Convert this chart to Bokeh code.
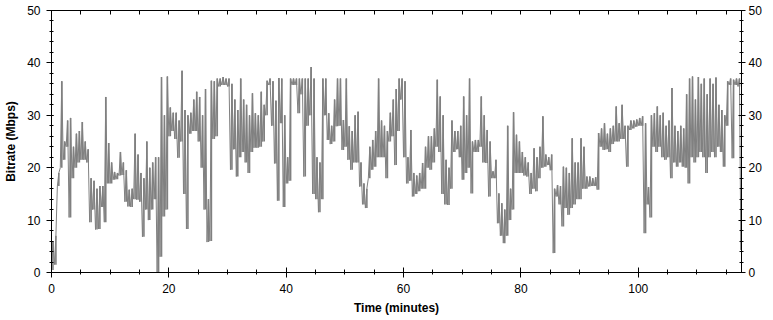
from bokeh.plotting import figure
from bokeh.models import Range1d, LinearAxis, SingleIntervalTicker, FixedTicker
from bokeh.embed import file_html
from bokeh.resources import INLINE

# Sampling: one min/max pair per half-minute bin, starting at 0 min
SAMPLE_STEP = 0.5
X_END = 117.6
TOP_TICKS = list(range(0, 120, 5))

# Minimum bitrate (Mbps) seen in each half-minute bin
low = [
    0.5, 1.5, 16.5, 20, 21.5, 24, 10.5, 18,
    20, 21, 21.5, 21.5, 21, 9.6, 12, 8.2,
    8.3, 12.5, 9.6, 17, 17, 17.7, 17.8, 18.5,
    18.6, 13.5, 12.6, 12.5, 14, 13.9, 13.5, 6.8,
    12, 10, 12, 14, 0, 3, 10.7, 12,
    26, 27, 25.5, 21.9, 25, 15, 8.3, 26.5,
    27, 27, 25, 20, 12, 5.8, 6, 25.5,
    26, 35.5, 35.8, 35.8, 35.5, 19.6, 23.5, 18.3,
    22, 23, 21, 19, 23, 23.8, 23.8, 24,
    25, 30, 35.8, 28, 20.8, 13.7, 28.5, 12.5,
    17, 17.5, 35.8, 35.8, 30.4, 34, 18.3, 28,
    30, 15, 14, 11.5, 14, 30, 25.3, 24.5,
    25, 27.9, 28, 23.4, 24, 21.5, 19.6, 21,
    21, 16.4, 13, 12.3, 18, 19.6, 20.2, 22,
    22, 22, 18, 25, 26, 20.5, 27, 33,
    22, 17, 17.5, 14.5, 15, 15.5, 16, 16,
    20, 19.6, 21, 24, 23, 15, 13, 12.9,
    16, 23, 23.5, 22, 17.7, 19, 20, 15.1,
    23, 23, 24, 21, 20.9, 14.5, 18, 18,
    9.4, 7, 5.6, 7, 10, 12, 19, 19,
    19, 18.5, 18.3, 15, 16, 15.5, 18, 20,
    20.2, 20.5, 19.5, 3.7, 14.5, 13, 8.8, 12.3,
    11, 12.3, 13, 14, 14, 16, 16, 16.4,
    16.5, 16.5, 15.8, 24, 23.4, 23.5, 23, 24.5,
    25, 25, 25.5, 25.5, 20.2, 27.2, 27.5, 27.8,
    28, 28, 7.5, 13, 10.5, 24, 23, 24,
    22, 21.5, 22, 18, 21, 20.2, 21, 20.2,
    20, 17, 22, 21, 22, 23, 22, 19,
    22, 23, 22, 24, 23, 20.2, 28, 35.8,
    21.8, 35.8, 35.5, 4.3,
]

# Maximum bitrate (Mbps) seen in each half-minute bin
high = [
    6, 7, 19, 36.5, 25, 29, 29.5, 24,
    26.5, 27, 28.7, 25, 23.5, 18, 17.5, 16,
    16.5, 16.5, 33.5, 24.7, 21, 19.2, 19, 23,
    21, 19.5, 15.8, 16, 26.5, 22.5, 19, 18,
    25, 20, 21, 22, 22, 37.3, 30, 37.4,
    31.5, 30.5, 30.5, 29, 38.5, 31, 30, 30.5,
    33, 34.5, 33.5, 30, 35, 14, 36.6, 36.5,
    37, 37, 37.3, 37, 37, 36, 33, 31,
    37, 33, 32, 30, 34.2, 30.4, 30, 34.5,
    32, 36.6, 37, 36.5, 32.8, 37.1, 37, 30,
    22, 37, 37, 37, 37, 37, 37, 37,
    39.2, 37, 22, 21, 37, 37, 30.4, 28,
    33, 37, 37, 29.1, 37, 27.9, 27, 30,
    30.7, 21, 17, 16, 24, 25.3, 27, 37,
    29, 28, 27, 30.5, 33, 35, 37, 37,
    36.5, 22, 27.2, 19, 18.5, 19, 20.9, 24,
    26, 26, 27.5, 36.8, 33.6, 30, 21.5, 20,
    29, 27, 27, 28, 33.6, 30, 37, 25,
    25.3, 25.3, 33.6, 30, 27.2, 25, 19.3, 21.5,
    15.1, 13.2, 12, 28, 16, 30.6, 26.3, 25,
    23, 22, 21, 19, 23.7, 22, 24, 29.8,
    22.5, 22, 22.5, 16, 16.7, 16.5, 20.2, 20,
    19, 25.6, 21, 21, 25.6, 24, 18.3, 18.3,
    18, 18.2, 26.6, 27.5, 28.5, 26.5, 27.5, 28,
    31.7, 28.5, 32, 28, 28, 29, 29, 29.2,
    29.5, 29.8, 28.5, 16.3, 30, 30.4, 31.7, 30,
    30.5, 28, 29, 35.2, 28, 27, 28, 27.5,
    34, 37, 37.4, 33, 37.3, 36, 37, 34,
    37, 36, 37.2, 32, 31, 30, 36.5, 37,
    36.8, 37, 37, 36.5,
]

# Build the min/max trace (lo at bin start, hi half a step later)
bin_t = [i * SAMPLE_STEP for i in range(len(low))]
bin_mid = [t + SAMPLE_STEP / 2 for t in bin_t]
xs, ys = [], []
for t, lo, hi in zip(bin_t, low, high):
    xs += [t, t + SAMPLE_STEP / 2]
    ys += [lo, hi]

FONT = "Liberation Sans"
GRAY = "#808080"

p = figure(width=772, height=318, output_backend="svg", toolbar_location=None,
           x_range=Range1d(0, X_END), y_range=Range1d(0, 50),
           min_border_left=51, min_border_right=31, min_border_top=10,
           min_border_bottom=46, x_axis_location=None, y_axis_location=None)
p.grid.visible = False
p.outline_line_color = None
p.background_fill_color = "white"
p.border_fill_color = "white"

# dense band of the min/max envelope
p.vbar(x=bin_mid, width=SAMPLE_STEP * 0.55, bottom=low, top=high,
       fill_color=GRAY, line_color=None)
p.line(xs, ys, line_color=GRAY, line_width=1)

def style(ax, tin, tout, mtin, mtout):
    ax.axis_line_color = "black"
    ax.axis_line_width = 1
    ax.major_tick_line_color = "black"
    ax.minor_tick_line_color = "black"
    ax.major_tick_in = tin
    ax.major_tick_out = tout
    ax.minor_tick_in = mtin
    ax.minor_tick_out = mtout
    ax.major_label_text_font = FONT
    ax.major_label_text_font_size = "12px"
    ax.major_label_text_color = "black"
    ax.axis_label_text_font = FONT
    ax.axis_label_text_font_size = "12px"
    ax.axis_label_text_font_style = "bold"
    ax.axis_label_text_color = "black"

xb = LinearAxis(ticker=SingleIntervalTicker(interval=20, num_minor_ticks=4),
                axis_label="Time (minutes)")
style(xb, 5, 5, 3, 2)
xb.major_label_standoff = 6
xb.axis_label_standoff = 5
p.add_layout(xb, "below")

# top frame edge: only inward ticks, no labels
xt = LinearAxis(ticker=FixedTicker(ticks=[], minor_ticks=TOP_TICKS))
style(xt, 4, 0, 4, 0)
xt.major_label_standoff = 0
p.add_layout(xt, "above")

yl = LinearAxis(ticker=SingleIntervalTicker(interval=10, num_minor_ticks=5),
                axis_label="Bitrate (Mbps)")
style(yl, 2, 5, 2, 2)
yl.major_label_standoff = 6
yl.axis_label_standoff = 6
p.add_layout(yl, "left")

yr = LinearAxis(ticker=SingleIntervalTicker(interval=10, num_minor_ticks=5))
style(yr, 3, 4, 2, 2)
yr.major_label_standoff = 3
p.add_layout(yr, "right")

open("out.html", "w").write(file_html(p, INLINE))
